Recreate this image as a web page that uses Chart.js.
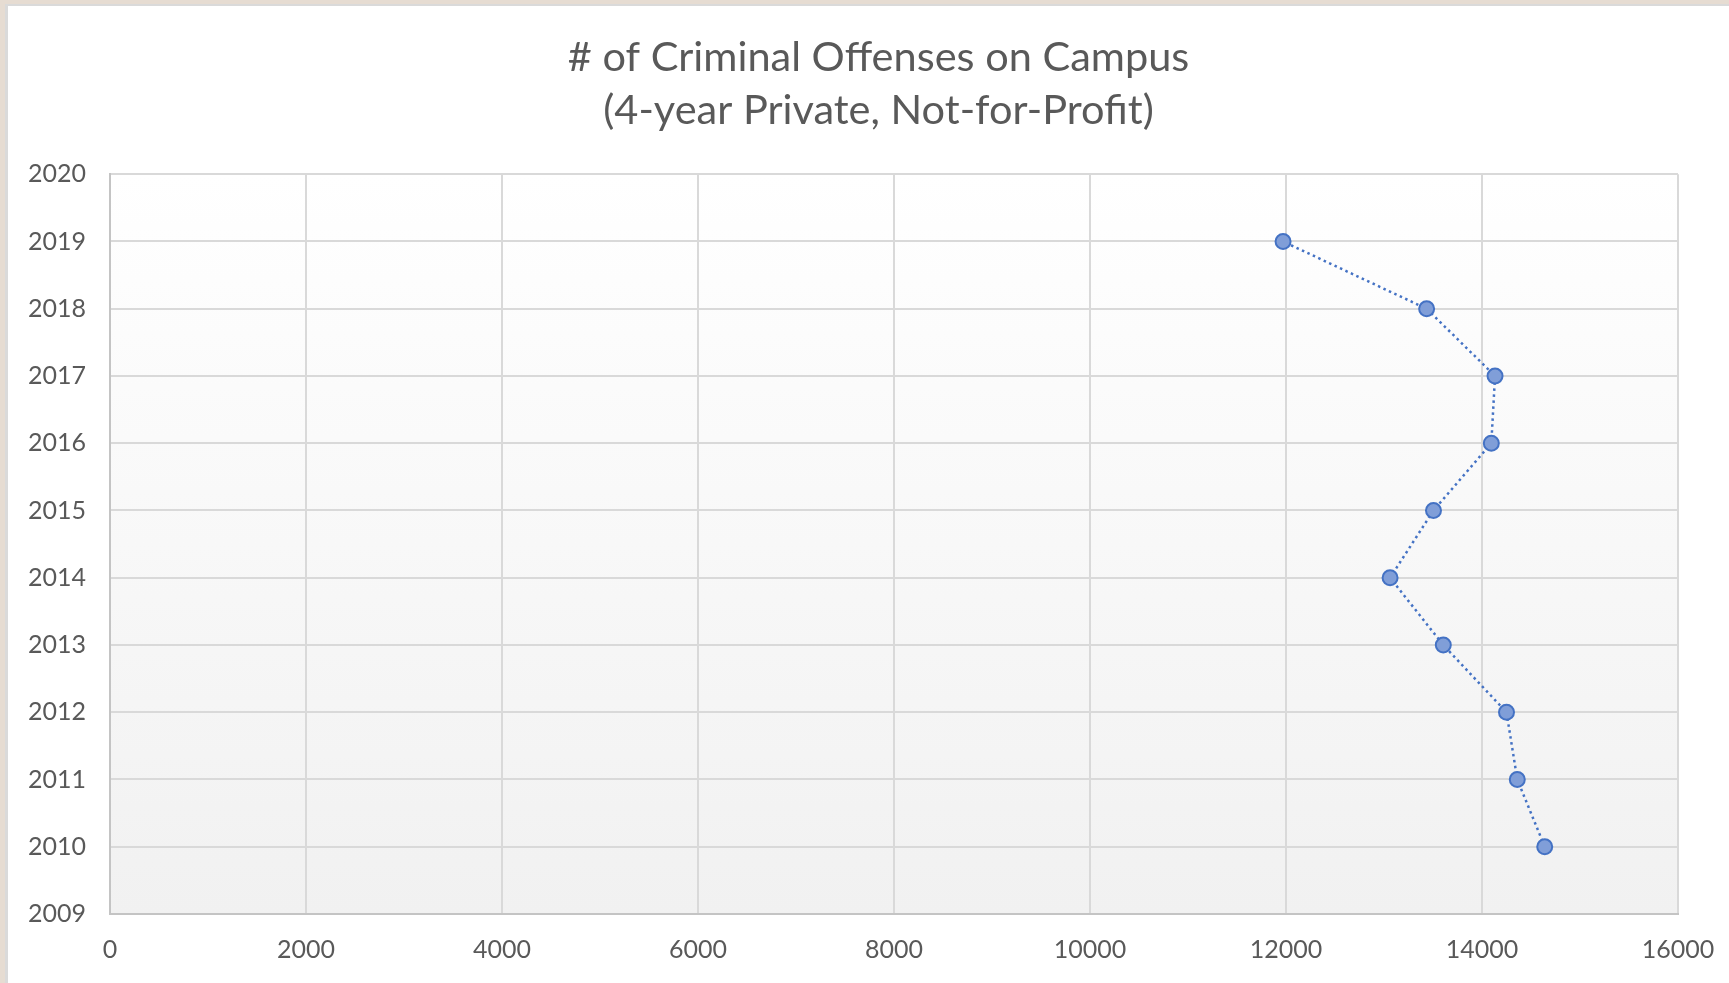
<!DOCTYPE html>
<html>
<head>
<meta charset="utf-8">
<script src="https://cdn.jsdelivr.net/npm/chart.js@4/dist/chart.umd.min.js"></script>
<style>
  html, body { margin: 0; padding: 0; background: #e6dcd2; overflow: hidden; }
  #frame {
    position: absolute; left: 5px; top: 4px; right: 0; bottom: 0;
    background: #fff; border-left: 3px solid #dadada; border-top: 2px solid #dadada;
  }
  #wrap { position: absolute; left: 0; top: 0; width: 1721px; height: 977px; }
</style>
</head>
<body>
<div id="frame"><div id="wrap"><canvas id="offense-chart"></canvas></div></div>
<script>
const years = [2010, 2011, 2012, 2013, 2014, 2015, 2016, 2017, 2018, 2019];
const offenses = [14640, 14360, 14250, 13605, 13062, 13505, 14095, 14133, 13435, 11970];
const title_lines = ["# of Criminal Offenses on Campus", "(4-year Private, Not-for-Profit)"];

const points = years.map((y, i) => ({ x: offenses[i], y: y }));

const tick_color = "#595959";
const grid_color = "#d9d9d9";

// soft white-to-grey fill behind the plot, like the Excel chart
const plotFill = {
    id: "plotFill",
    beforeDraw(chart) {
        const { ctx, chartArea: a } = chart;
        const g = ctx.createLinearGradient(0, a.top, 0, a.bottom);
        g.addColorStop(0, "#ffffff");
        g.addColorStop(1, "#f1f1f1");
        ctx.save();
        ctx.fillStyle = g;
        ctx.fillRect(a.left, a.top, a.right - a.left, a.bottom - a.top);
        ctx.restore();
    }
};

const ctx = document.getElementById("offense-chart").getContext("2d");

new Chart(ctx, {
    type: "scatter",
    data: {
        datasets: [{
            label: "Criminal offenses",
            data: points,
            showLine: true,
            borderColor: "#4472c4",
            borderWidth: 2.5,
            borderDash: [2.5, 3.5],
            backgroundColor: "#809ed8",
            pointBackgroundColor: "#809ed8",
            pointBorderColor: "#4472c4",
            pointBorderWidth: 2,
            pointRadius: 7.5,
            pointHoverRadius: 7.5
        }]
    },
    options: {
        responsive: true,
        maintainAspectRatio: false,
        animation: false,
        layout: { padding: { left: 20, right: 0, top: 0, bottom: 0 } },
        plugins: {
            legend: { display: false },
            tooltip: { enabled: false },
            title: {
                display: true,
                text: title_lines,
                color: tick_color,
                font: { family: "Lato", size: 41.5, weight: "normal", lineHeight: 1.28 },
                padding: { top: 25, bottom: 37 }
            }
        },
        scales: {
            x: {
                type: "linear",
                min: 0,
                max: 16000,
                afterFit(scale) { scale.height = 69; scale.paddingRight = 51; },
                grid: { color: grid_color, lineWidth: 2, drawTicks: false },
                border: { color: "#c4c4c4", width: 2 },
                ticks: {
                    stepSize: 2000,
                    padding: 21,
                    color: tick_color,
                    font: { family: "Lato", size: 25 },
                    callback: v => String(v)
                }
            },
            y: {
                type: "linear",
                min: 2009,
                max: 2020,
                afterFit(scale) { scale.width = 82; },
                grid: { color: grid_color, lineWidth: 2, drawTicks: false },
                border: { color: "#c4c4c4", width: 2 },
                ticks: {
                    stepSize: 1,
                    padding: 24,
                    color: tick_color,
                    font: { family: "Lato", size: 25 },
                    callback: v => String(v)
                }
            }
        }
    },
    plugins: [plotFill]
});
</script>
</body>
</html>
